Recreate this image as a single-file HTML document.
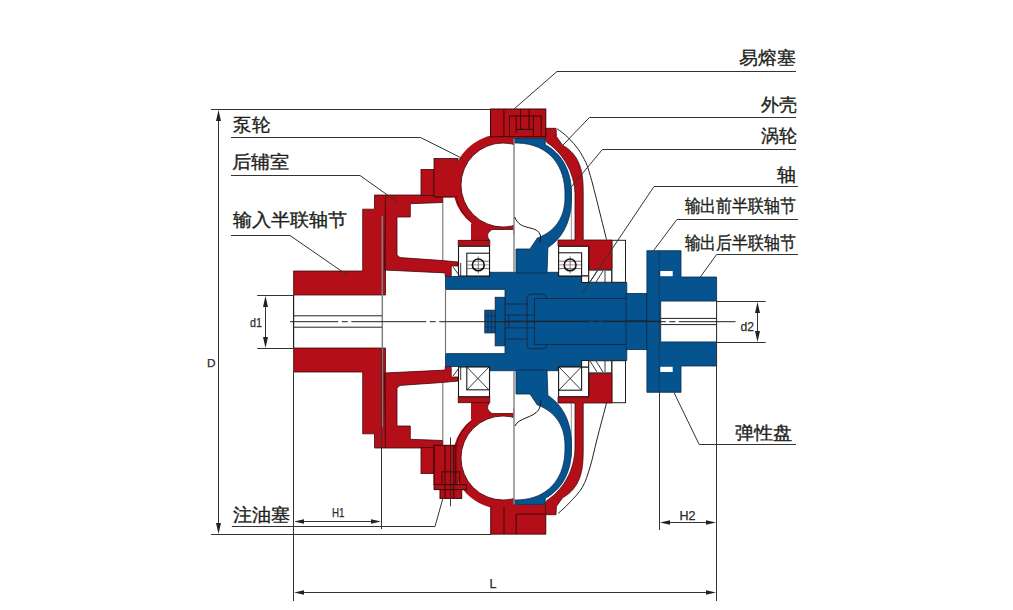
<!DOCTYPE html>
<html><head><meta charset="utf-8">
<style>
html,body{margin:0;padding:0;background:#fff;}
body{width:1013px;height:610px;overflow:hidden;position:relative;}
svg{position:absolute;left:0;top:0;}
.lb{font-family:"Liberation Sans",sans-serif;font-size:17.5px;fill:#231f20;stroke:#231f20;stroke-width:0.35;}
.sm{font-family:"Liberation Sans",sans-serif;font-size:11px;fill:#333;}
</style></head><body>
<svg width="1013" height="610" viewBox="0 0 1013 610">
<defs>
<clipPath id="cl514"><rect x="0" y="0" width="514" height="643"/></clipPath>
<g id="half">
  <!-- input coupling -->
  <polygon fill="#b40f19" stroke="#3c0a0c" stroke-width="0.8" points="293.6,271 362.7,271 362.7,209.2 374.5,209.2 374.5,195 385.5,195 385.5,295 293.6,295"/>
  <!-- rear chamber -->
  <polygon fill="#b40f19" stroke="#3c0a0c" stroke-width="0.8" points="385.5,195 442.8,195 442.8,202.5 410.3,203.7 410.3,217 397,217 397,255 400,257.6 442,260.5 458,262 458,266 451.2,266 451.2,276.5 445.2,276.5 445.2,272.9 384.4,270"/>
  <!-- pump steps -->
  <rect fill="#b40f19" stroke="#3c0a0c" stroke-width="0.8" x="421" y="169.4" width="13" height="26"/>
  <rect fill="#b40f19" stroke="#3c0a0c" stroke-width="0.8" x="434" y="158.5" width="24" height="38.5"/>
  <!-- pump ring -->
  <g clip-path="url(#cl514)">
    <circle cx="503" cy="185" r="51" fill="#b40f19"/>
    <rect fill="#b40f19" x="486" y="222" width="28" height="8"/>
    <rect fill="#b40f19" x="471" y="220" width="19" height="21"/>
    <circle cx="503" cy="185" r="42" fill="#fff" stroke="#3c0a0c" stroke-width="0.8"/>
  </g>
  <rect fill="#b40f19" stroke="#3c0a0c" stroke-width="0.8" x="458.2" y="240.3" width="31.6" height="6"/>
  <path d="M452.6,197.5 A51.2,51.2 0 0 0 470.6,224.5" fill="none" stroke="#fff" stroke-width="3.2"/>
  <path d="M456.2,198 A49.4,49.4 0 0 0 471,222" fill="none" stroke="#3c0a0c" stroke-width="0.7"/>
  <!-- top flange -->
  <rect fill="#b40f19" x="490.5" y="109" width="55.3" height="29.5"/>
  <!-- hub -->
  <polygon fill="#05548f" stroke="#0d2a48" stroke-width="0.8" points="445.5,276.5 458.5,276.5 458.5,272.3 558,272.3 558,276 581.6,276 581.6,282.5 626.8,282.5 626.8,322 505,322 505,289.4 445.5,289.4"/>
  <rect fill="#05548f" stroke="#0d2a48" stroke-width="0.8" x="626" y="293.4" width="21" height="29"/>
  <polygon fill="#05548f" stroke="#0d2a48" stroke-width="0.8" points="646.9,250.7 681,250.7 681,277 716.6,277 716.6,301.1 660.7,301.1 660.7,322 646.9,322"/>
  <rect fill="#fff" x="660.3" y="271" width="12.4" height="5.2"/>
  <!-- white notch -->
  <path fill="#fff" d="M513.3,229.5 L492,229.5 Q484.5,234 489.5,240.2 L513.3,240.2 Z"/>
  <path fill="none" stroke="#3c0a0c" stroke-width="0.8" d="M513.3,229.5 L492,229.5 Q484.5,234 489.5,240.2"/>
  <!-- bearings -->
  <g fill="#fff" stroke="#1a1a1a" stroke-width="1.1">
    <rect x="458.5" y="246.3" width="31" height="29.7"/>
    <rect x="466.8" y="253.2" width="22.7" height="22.8"/>
    <rect x="558.6" y="246.3" width="30" height="29.7"/>
    <rect x="581.6" y="276" width="7" height="6.5"/>
    <rect x="558.6" y="252.8" width="23" height="23.2"/>
  </g>
  <!-- seal hatch -->
  <g stroke="#222" stroke-width="0.9" fill="none">
    <line x1="460.7" y1="263" x2="460.7" y2="276"/>
    <line x1="453" y1="267" x2="459" y2="275"/>
    <rect x="588.8" y="270.2" width="23" height="12" fill="#fff"/>
    <line x1="590" y1="282" x2="597" y2="271"/>
    <line x1="596" y1="282" x2="603" y2="271"/>
    <line x1="605" y1="271" x2="605" y2="282"/>
  </g>
  <!-- parting line -->
  <line x1="442.8" y1="202" x2="442.8" y2="260" stroke="#666" stroke-width="1"/>
  <line x1="382.3" y1="215.8" x2="382.3" y2="322" stroke="#808080" stroke-width="1.5"/>
  <line x1="385.5" y1="195" x2="385.5" y2="270" stroke="#5a0a0e" stroke-width="0.8"/>
  <line x1="434" y1="197" x2="458" y2="197" stroke="#5a0a0e" stroke-width="0.8"/>
  <rect x="611.8" y="240.3" width="13.7" height="42" fill="none" stroke="#222" stroke-width="1"/>
  <line x1="571.3" y1="186" x2="571.3" y2="240" stroke="#777" stroke-width="0.8"/>
  <!-- flange dark line -->
  <line x1="659.3" y1="250.7" x2="659.3" y2="322" stroke="#173a60" stroke-width="1"/>
  <line x1="530.3" y1="249" x2="530.3" y2="272" stroke="#1c2f4a" stroke-width="0.8"/>
  <!-- bore lines -->
  <line x1="293.6" y1="295" x2="293.6" y2="322" stroke="#222" stroke-width="1.2"/>
  <line x1="293.6" y1="315.8" x2="382" y2="315.8" stroke="#222" stroke-width="1"/>
  <line x1="660.7" y1="318.4" x2="716.6" y2="318.4" stroke="#222" stroke-width="1"/>
  <line x1="716.6" y1="301" x2="716.6" y2="322" stroke="#222" stroke-width="1"/>
  <line x1="445.5" y1="289.4" x2="445.5" y2="322" stroke="#777" stroke-width="1.2"/>
  <!-- central bolts -->
  <g stroke="#1c2540" stroke-width="0.9" fill="none">
    <line x1="505" y1="304" x2="527" y2="304"/>
    <line x1="505" y1="315.1" x2="534.5" y2="315.1"/>
    <path d="M534.5,322 L534.5,298.5 L626.8,298.5"/>
    <path d="M527.1,322 L527.1,298 Q527.1,294.2 531,294.2 L543,294.2 Q546.8,294.2 546.8,298"/>
  </g>
</g>
</defs>
<use href="#half"/>
<use href="#half" transform="matrix(1 0 0 -1 0 643)"/>

<!-- turbine & shell -->
<g id="ts">
<path fill="#b40f19" stroke="#3c0a0c" stroke-width="0.8" d="M545.7,128.3 L556,128.3 L556.4,136.5 L562.56,145.21 L563.42,145.70 L564.27,146.20 L565.09,146.73 L565.90,147.26 L566.68,147.82 L567.45,148.38 L568.20,148.97 L568.92,149.57 L569.63,150.18 L570.32,150.82 L571.00,151.46 L571.65,152.13 L572.29,152.81 L572.90,153.51 L573.50,154.22 L574.08,154.95 L574.64,155.70 L575.19,156.46 L575.71,157.25 L576.22,158.05 L576.71,158.87 L577.19,159.71 L577.64,160.57 L578.08,161.44 L578.49,162.34 L578.89,163.26 L579.28,164.20 L579.64,165.16 L579.99,166.15 L580.32,167.16 L580.63,168.20 L580.92,169.26 L581.20,170.35 L581.46,171.48 L581.70,172.63 L581.92,173.82 L582.12,175.05 L582.31,176.32 L582.48,177.64 L582.63,179.02 L582.76,180.45 L582.88,181.96 L582.98,183.56 L583.06,185.28 L583.12,187.15 L583.16,189.24 L583.19,191.74 L583.20,196.00 L583.2,240 L612,240 L612,269.4 L589,269.4 L589,246 L558,246 L558,240 L575,240 L575.00,196.00 L574.99,194.75 L574.95,193.51 L574.89,192.26 L574.81,191.02 L574.71,189.78 L574.58,188.54 L574.42,187.30 L574.25,186.07 L574.05,184.84 L573.83,183.61 L573.58,182.39 L573.31,181.18 L573.02,179.97 L572.71,178.76 L572.37,177.57 L572.01,176.38 L571.63,175.20 L571.23,174.02 L570.80,172.86 L570.36,171.70 L569.89,170.55 L569.40,169.42 L568.88,168.29 L568.35,167.17 L567.80,166.07 L567.22,164.97 L566.63,163.89 L566.01,162.82 L565.38,161.76 L564.72,160.72 L564.04,159.69 L563.35,158.68 L562.64,157.67 L561.90,156.69 L561.15,155.72 L560.38,154.76 L559.60,153.82 L558.79,152.90 L557.97,151.99 L557.13,151.10 L556.28,150.23 L555.41,149.37 L554.52,148.53 L553.62,147.71 L552.70,146.91 L551.76,146.13 L550.82,145.37 L549.85,144.63 L548.88,143.90 L547.89,143.20 L546.89,142.52 L545.3,140 Z"/>
<path fill="#05548f" stroke="#0d2a48" stroke-width="0.8" d="M514,138.5 L545,138.5 L545.3,144.82 L545.47,144.82 L546.70,145.51 L547.90,146.23 L549.07,146.98 L550.22,147.76 L551.34,148.57 L552.44,149.42 L553.51,150.29 L554.55,151.20 L555.56,152.13 L556.54,153.09 L557.49,154.08 L558.42,155.10 L559.31,156.15 L560.18,157.23 L561.02,158.33 L561.82,159.46 L562.60,160.62 L563.34,161.81 L564.06,163.02 L564.74,164.26 L565.39,165.52 L566.01,166.81 L566.60,168.13 L567.15,169.47 L567.67,170.84 L568.16,172.24 L568.62,173.66 L569.04,175.11 L569.44,176.59 L569.79,178.09 L570.12,179.63 L570.41,181.20 L570.66,182.80 L570.88,184.44 L571.07,186.13 L571.23,187.86 L571.35,189.66 L571.43,191.54 L571.48,193.56 L571.50,196.00 L571.50,196.00 L571.48,198.53 L571.43,200.61 L571.35,202.56 L571.23,204.42 L571.07,206.21 L570.88,207.96 L570.66,209.65 L570.41,211.31 L570.12,212.93 L569.79,214.52 L569.44,216.08 L569.04,217.61 L568.62,219.11 L568.16,220.58 L567.67,222.03 L567.15,223.44 L566.60,224.83 L566.01,226.19 L565.39,227.53 L564.74,228.84 L564.06,230.12 L563.34,231.37 L562.60,232.60 L561.82,233.80 L561.02,234.97 L560.18,236.11 L559.31,237.22 L558.42,238.31 L557.49,239.36 L556.54,240.39 L555.56,241.38 L554.55,242.35 L553.51,243.28 L552.44,244.19 L551.34,245.06 L550.22,245.90 L549.07,246.71 L547.90,247.49 L547,273 L516,273 L516,249 L530,249 L537.33,238.06 L537.33,238.06 L538.51,237.62 L539.67,237.16 L540.80,236.67 L541.91,236.15 L543.00,235.61 L544.07,235.05 L545.11,234.46 L546.13,233.84 L547.12,233.20 L548.09,232.54 L549.04,231.86 L549.96,231.15 L550.86,230.42 L551.73,229.66 L552.58,228.88 L553.40,228.08 L554.19,227.26 L554.96,226.42 L555.70,225.55 L556.42,224.66 L557.10,223.75 L557.77,222.83 L558.40,221.87 L559.00,220.90 L559.58,219.91 L560.13,218.90 L560.65,217.86 L561.14,216.81 L561.61,215.74 L562.04,214.64 L562.45,213.53 L562.82,212.39 L563.17,211.23 L563.49,210.05 L563.77,208.84 L564.03,207.61 L564.26,206.35 L564.45,205.07 L564.62,203.75 L564.76,202.39 L564.86,200.98 L564.94,199.50 L564.98,197.92 L565.00,196.00 L565.00,196.00 L564.98,193.77 L564.94,191.92 L564.86,190.20 L564.76,188.56 L564.62,186.98 L564.45,185.44 L564.26,183.94 L564.03,182.48 L563.77,181.04 L563.49,179.64 L563.17,178.26 L562.82,176.91 L562.45,175.59 L562.04,174.29 L561.61,173.01 L561.14,171.76 L560.65,170.53 L560.13,169.33 L559.58,168.15 L559.00,166.99 L558.40,165.86 L557.77,164.75 L557.10,163.67 L556.42,162.61 L555.70,161.58 L554.96,160.57 L554.19,159.59 L553.40,158.63 L552.58,157.70 L551.73,156.79 L550.86,155.91 L549.96,155.06 L549.04,154.23 L548.09,153.43 L547.12,152.66 L546.13,151.92 L545.11,151.21 L544.07,150.52 L543.00,149.86 L541.91,149.23 L540.80,148.63 L539.67,148.06 L538.51,147.52 L537.33,147.01 L536.12,146.53 L534.89,146.07 L533.64,145.65 L532.37,145.26 L531.07,144.90 L529.74,144.57 L528.39,144.28 L527.01,144.01 L525.60,143.77 L524.16,143.57 L522.68,143.39 L521.16,143.25 L519.58,143.14 L517.92,143.06 L516.15,143.02 L514.00,143.00 L514,143 Z"/>
</g>
<use href="#ts" transform="matrix(1 0 0 -1 0 643)"/>
<g stroke="#3a0606" stroke-width="0.9" fill="none">
  <path d="M504,506 V534.2 M516.2,514 V534.2 M516.2,514 H545.5"/>
  <path d="M490.8,506 V534.2 H545.8 V514"/>
</g>
<path fill="none" stroke="#222" stroke-width="1" d="M557.2,128.7 C559.1,130.3 565.2,134.6 568.7,138.1 C572.2,141.6 575.6,145.5 578.5,149.6 C581.4,153.7 584.1,158.8 585.9,162.7 C587.7,166.6 588.4,169.4 589.5,173.0 C590.6,176.6 591.2,178.6 592.6,184.0 C594.0,189.4 595.7,196.1 598.0,205.3 C600.3,214.6 605.1,233.8 606.5,239.5"/>
<path fill="none" stroke="#222" stroke-width="1" d="M558.2,513.4 C560.1,511.6 565.3,507.3 569.3,502.9 C573.3,498.5 578.9,493.3 582.4,487.2 C585.9,481.1 587.9,474.1 590.3,466.2 C592.7,458.3 594.1,450.6 596.8,440.0 C599.5,429.4 605.1,408.6 606.7,402.3"/>

<line x1="514" y1="138.7" x2="514" y2="272.3" stroke="#888" stroke-width="1.5"/>
<line x1="514" y1="370.7" x2="514" y2="504.5" stroke="#888" stroke-width="1.5"/>
<!-- blade S curves -->
<path d="M514.7,217 C520,232 538,224 540.5,236 C541,240 539,242.8 539,242.8" fill="none" stroke="#111" stroke-width="1"/>
<path d="M515,426 C518,418 533,418 538.5,410 C541,406 541,399.7 541,399.7" fill="none" stroke="#111" stroke-width="1"/>

<!-- washer & nut -->
<rect x="495.2" y="297.3" width="9.8" height="48.5" fill="#05548f" stroke="#1c2540" stroke-width="0.9"/>
<rect x="484.8" y="310.2" width="10.4" height="22.7" fill="#05548f" stroke="#1c2540" stroke-width="0.9"/>
<g stroke="#1c2540" stroke-width="0.6">
<line x1="488" y1="310.2" x2="488" y2="332.9"/><line x1="491.5" y1="310.2" x2="491.5" y2="332.9"/>
<line x1="484.8" y1="316" x2="495.2" y2="316"/><line x1="484.8" y1="327" x2="495.2" y2="327"/>
</g>
<line x1="508.7" y1="315" x2="508.7" y2="328" stroke="#1c2540" stroke-width="0.9"/>

<!-- top bearing circles -->
<g stroke="#707070" stroke-width="1">
  <line x1="467" y1="261.2" x2="489" y2="261.2"/><line x1="467" y1="268.6" x2="489" y2="268.6"/>
  <line x1="559" y1="261.2" x2="581" y2="261.2"/><line x1="559" y1="268.6" x2="581" y2="268.6"/>
</g>
<g stroke="#b58a8a" stroke-width="1">
  <line x1="467" y1="264.9" x2="489" y2="264.9"/>
  <line x1="559" y1="264.9" x2="581" y2="264.9"/>
</g>
<g stroke="#777" stroke-width="1">
  <line x1="478.3" y1="256.3" x2="478.3" y2="273.5"/>
  <line x1="570.1" y1="256.3" x2="570.1" y2="273.5"/>
</g>
<g stroke="#111" stroke-width="1.6" fill="none">
  <circle cx="478.3" cy="264.9" r="5.9"/>
  <circle cx="570.1" cy="264.9" r="5.9"/>
</g>
<!-- bottom bearing X -->
<g stroke="#222" stroke-width="0.9">
  <line x1="466.8" y1="367" x2="489" y2="390"/><line x1="489" y1="367" x2="466.8" y2="390"/>
  <line x1="559" y1="367" x2="581.3" y2="390"/><line x1="581.3" y1="367" x2="559" y2="390"/>
</g>

<!-- fusible plug -->
<g stroke="#3a0606" stroke-width="1" fill="none">
  <rect x="490.5" y="109" width="55.3" height="27.7"/>
  <path d="M503.9,109.3 V136.4"/>
  <path d="M509.5,136.4 V116 H541.2 V136.4 M516.2,116 V133 M533.4,116 V136.4 M520.6,109.3 V129.4 H529 V109.3 M516.2,129.4 H533.4"/>
</g>
<!-- oil plug bolt -->
<g stroke="#3a0606" stroke-width="1" fill="#b40f19">
  <rect x="434.1" y="445.3" width="21.7" height="39.3"/>
  <rect x="434.1" y="484.6" width="32.5" height="5"/>
  <rect x="440" y="489.6" width="21.7" height="8.8"/>
  <rect x="442" y="471.9" width="17.7" height="12.7" fill="none"/>
  <line x1="445" y1="445" x2="445" y2="498"/>
  <line x1="453.8" y1="445" x2="453.8" y2="498"/>
</g>
<line x1="450.5" y1="437.4" x2="450.5" y2="506.3" stroke="#222" stroke-width="0.9"/>

<!-- center lines -->
<path d="M290.0,321.7 H338.3 M341.8,321.7 H347.8 M351.3,321.7 H426.2 M429.7,321.7 H435.7 M439.2,321.7 H589.3 M592.8,321.7 H598.8 M602.3,321.7 H665.8 M669.3,321.7 H675.3 M678.8,321.7 H735.5" stroke="#222" stroke-width="1" fill="none"/>

<!-- dimension D -->
<g stroke="#333" stroke-width="1" fill="none">
<line x1="211" y1="109.5" x2="491" y2="109.5"/>
<line x1="211" y1="534.5" x2="491" y2="534.5"/>
<line x1="218.5" y1="114" x2="218.5" y2="530"/>
</g>
<polygon points="218.5,110 216,121 221,121" fill="#222"/>
<polygon points="218.5,534 216,523 221,523" fill="#222"/>

<!-- labels -->
<text class="lb" x="233.0" y="131.3" textLength="37.0" lengthAdjust="spacingAndGlyphs">泵轮</text>
<text class="lb" x="231.5" y="168.3" textLength="58.0" lengthAdjust="spacingAndGlyphs">后辅室</text>
<text class="lb" x="232.5" y="225.5" textLength="114.5" lengthAdjust="spacingAndGlyphs">输入半联轴节</text>
<text class="lb" x="232.5" y="520.7" textLength="57.5" lengthAdjust="spacingAndGlyphs">注油塞</text>
<text class="lb" x="738.5" y="64.4" textLength="57.0" lengthAdjust="spacingAndGlyphs">易熔塞</text>
<text class="lb" x="760.5" y="111.2" textLength="36.0" lengthAdjust="spacingAndGlyphs">外壳</text>
<text class="lb" x="760.5" y="142.1" textLength="36.0" lengthAdjust="spacingAndGlyphs">涡轮</text>
<text class="lb" x="777.0" y="181.2" textLength="19.0" lengthAdjust="spacingAndGlyphs">轴</text>
<text class="lb" x="684.5" y="212.4" textLength="111.5" lengthAdjust="spacingAndGlyphs">输出前半联轴节</text>
<text class="lb" x="684.5" y="248.6" textLength="111.5" lengthAdjust="spacingAndGlyphs">输出后半联轴节</text>
<text class="lb" x="735.0" y="438.8" textLength="57.5" lengthAdjust="spacingAndGlyphs">弹性盘</text>
<g fill="none" stroke="#333" stroke-width="1">
<polyline points="231,137.5 420.5,137.5 462.6,158.6"/>
<polyline points="231,175.5 360,175.5 398,202.5"/>
<polyline points="231,235.5 290,235.5 348,275.6"/>
<polyline points="231.8,526.5 435,526.5 443,498"/>
<polyline points="796,71.5 557,71.5 514,109"/>
<polyline points="796,117.5 589.4,117.5 563,145"/>
<polyline points="796,149.5 602.4,149.5 571.5,186.5"/>
<polyline points="798,186.5 654,186.5 582.5,293"/>
<polyline points="798,219.5 676.9,219.5 652.7,251.7"/>
<polyline points="798,254.5 716.6,254.5 700.3,277"/>
<polyline points="796,444.5 699.2,444.5 674,392.6"/>
</g>

<!-- d1 d2 -->
<text x="207.0" y="367.3" textLength="8.5" lengthAdjust="spacingAndGlyphs" style="font-family:&quot;Liberation Sans&quot;,sans-serif;font-size:11.21px;fill:#2b2b2b;stroke:#2b2b2b;stroke-width:0.25">D</text>
<text x="250.0" y="326.8" textLength="12.0" lengthAdjust="spacingAndGlyphs" style="font-family:&quot;Liberation Sans&quot;,sans-serif;font-size:12.54px;fill:#2b2b2b;stroke:#2b2b2b;stroke-width:0.25">d1</text>
<text x="740.5" y="331.3" textLength="13.5" lengthAdjust="spacingAndGlyphs" style="font-family:&quot;Liberation Sans&quot;,sans-serif;font-size:12.54px;fill:#2b2b2b;stroke:#2b2b2b;stroke-width:0.25">d2</text>
<text x="332.0" y="517.4" textLength="12.5" lengthAdjust="spacingAndGlyphs" style="font-family:&quot;Liberation Sans&quot;,sans-serif;font-size:12.34px;fill:#2b2b2b;stroke:#2b2b2b;stroke-width:0.25">H1</text>
<text x="679.5" y="519.5" textLength="16.0" lengthAdjust="spacingAndGlyphs" style="font-family:&quot;Liberation Sans&quot;,sans-serif;font-size:12.08px;fill:#2b2b2b;stroke:#2b2b2b;stroke-width:0.25">H2</text>
<text x="489.5" y="587.7" textLength="7.0" lengthAdjust="spacingAndGlyphs" style="font-family:&quot;Liberation Sans&quot;,sans-serif;font-size:12.91px;fill:#2b2b2b;stroke:#2b2b2b;stroke-width:0.25">L</text>
<g stroke="#333" stroke-width="1">
<line x1="257.2" y1="295.5" x2="293.6" y2="295.5"/>
<line x1="257.2" y1="348.5" x2="293.6" y2="348.5"/>
<line x1="265.5" y1="300" x2="265.5" y2="344"/>
<line x1="716" y1="301.5" x2="765.7" y2="301.5"/>
<line x1="716" y1="342.5" x2="765.7" y2="342.5"/>
<line x1="757.5" y1="306" x2="757.5" y2="338"/>
</g>
<g fill="#222">
<polygon points="265.5,296 263,307 268,307"/>
<polygon points="265.5,348 263,337 268,337"/>
<polygon points="757.5,302 755,313 760,313"/>
<polygon points="757.5,342 755,331 760,331"/>
</g>

<!-- H1 H2 L -->
<g stroke="#333" stroke-width="1">
<line x1="293.5" y1="372" x2="293.5" y2="601"/>
<line x1="381.5" y1="348" x2="381.5" y2="529"/>
<line x1="298" y1="521.5" x2="378" y2="521.5"/>
<line x1="659.5" y1="392" x2="659.5" y2="530"/>
<line x1="716.5" y1="342" x2="716.5" y2="601"/>
<line x1="663" y1="522.5" x2="713" y2="522.5"/>
<line x1="298" y1="592.5" x2="713" y2="592.5"/>
</g>
<g fill="#222">
<polygon points="294,521.5 304,519.2 304,523.8"/>
<polygon points="381,521.5 371,519.2 371,523.8"/>
<polygon points="660,522.5 670,520.2 670,524.8"/>
<polygon points="716,522.5 706,520.2 706,524.8"/>
<polygon points="294,592.5 304,590.2 304,594.8"/>
<polygon points="716,592.5 706,590.2 706,594.8"/>
</g>
</svg>
</body></html>
